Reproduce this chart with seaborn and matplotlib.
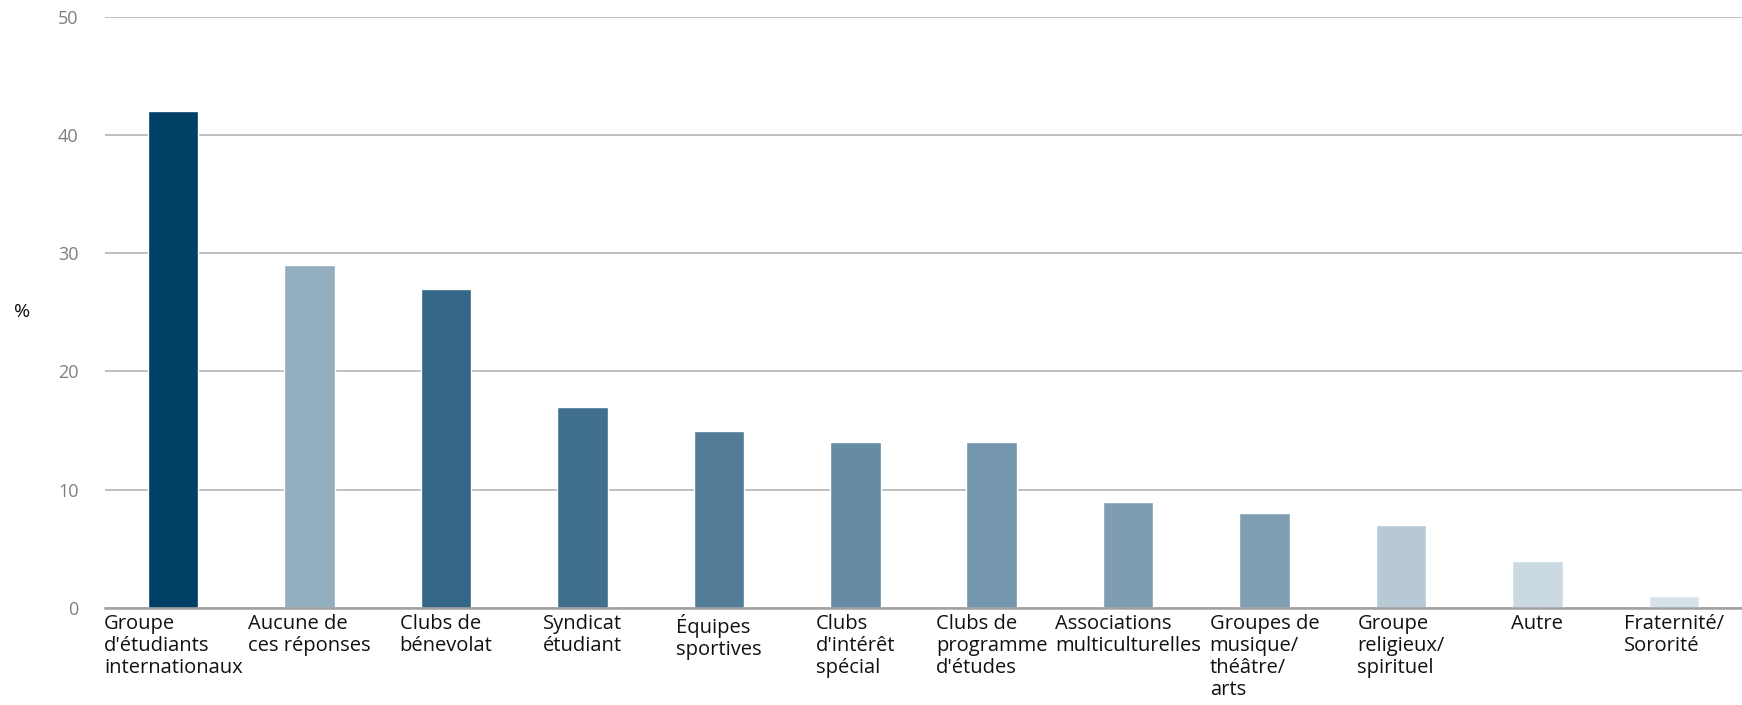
import matplotlib
matplotlib.use("Agg")
import matplotlib.pyplot as plt
import seaborn as sns
import pandas as pd
import numpy as np

categories = [
    "Groupe\nd'étudiants\ninternationaux",
    "Aucune de\nces réponses",
    "Clubs de\nbénevolat",
    "Syndicat\nétudiant",
    "Équipes\nsportives",
    "Clubs\nd'intérêt\nspécial",
    "Clubs de\nprogramme\nd'études",
    "Associations\nmulticulturelles",
    "Groupes de\nmusique/\nthéâtre/\narts",
    "Groupe\nreligieux/\nspirituel",
    "Autre",
    "Fraternité/\nSororité",
]
values = [42, 29, 27, 17, 15, 14, 14, 9, 8, 7, 4, 1]
colors = ["#003F66", "#93AEBF", "#336687", "#40708E", "#527C98", "#668BA4",
          "#7396AC", "#7F9DB1", "#809EB2", "#B6C9D5", "#CBD9E3", "#D6E3EA"]
yticks = [0, 10, 20, 30, 40, 50]

sns.set_theme(style="white")
plt.rcParams['font.family'] = ['Open Sans', 'DejaVu Sans']

df = pd.DataFrame({"cat": categories, "val": values})

fig = plt.figure(figsize=(17.42, 7.05), dpi=100)
ax = fig.add_axes([0.0603, 0.1376, 0.9397, 0.8387])

sns.barplot(data=df, x="cat", y="val", hue="cat", palette=colors,
            width=0.37, legend=False, ax=ax, saturation=1, zorder=3)

ax.set_ylim(0, 50)
ax.set_yticks(yticks)
ax.set_xlim(-0.5, 11.44)
ax.yaxis.grid(True, color="#C0C0C0", linewidth=1.4, zorder=0)
ax.xaxis.grid(False)
for s in ["top", "right", "left"]:
    ax.spines[s].set_visible(False)
ax.spines["bottom"].set_color("#A0A0A0")
ax.spines["bottom"].set_linewidth(1.8)
ax.spines["bottom"].set_zorder(4)

ax.set_xlabel("")
ax.set_ylabel("")
ax.tick_params(axis="y", length=0, pad=19, labelsize=13, labelcolor="#7F7F7F")
ax.tick_params(axis="x", which="major", length=0, pad=4, labelsize=14.5, labelcolor="#111111")
for lbl in ax.get_xticklabels():
    lbl.set_ha("center")
    lbl.set_multialignment("left")
    lbl.set_va("top")
    lbl.set_linespacing(1.14)

ax.set_xticks(np.arange(-0.5, 12, 1.0), minor=True)
ax.tick_params(axis="x", which="minor", length=8, width=1.2, color="#DCE3EA", direction="out")

fig.text(0.0125, 0.558, "%", fontsize=14, color="#111111", ha="center", va="center")

fig.savefig("out.png", dpi=100)
